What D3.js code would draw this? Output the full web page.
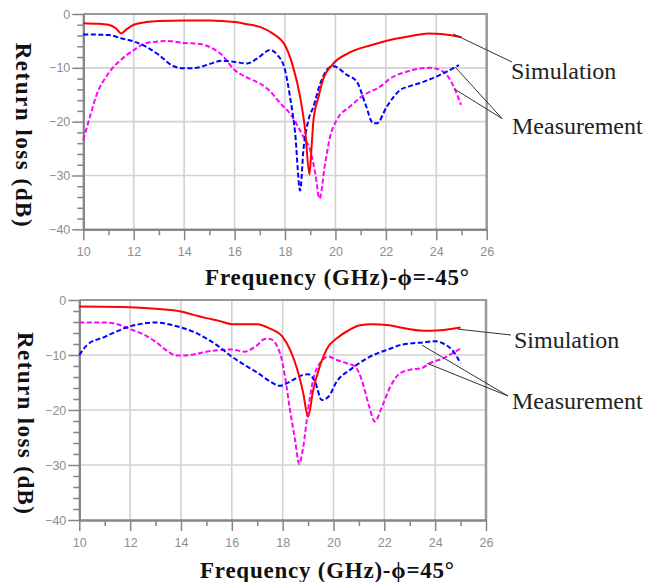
<!DOCTYPE html>
<html>
<head>
<meta charset="utf-8">
<script src="https://cdn.jsdelivr.net/npm/d3@7"></script>
<style>
  body { margin: 0; background: #fff; }
  svg { display: block; }
  .tick text { fill: #8e8e8e; font-family: "Liberation Sans", Arial, sans-serif; font-size: 12.5px; }
  .ttl { font-family: "Liberation Serif", "Times New Roman", serif; font-weight: bold; fill: #111; }
  .ann { font-family: "Liberation Serif", "Times New Roman", serif; font-size: 24px; fill: #222; }
</style>
</head>
<body>
<script>
// axis ticks
var freqMajor = [10, 12, 14, 16, 18, 20, 22, 24, 26];
var freqMinor = [11, 13, 15, 17, 19, 21, 23, 25];
var dbMajor = [0, -10, -20, -30, -40];
var dbMinor = [-2, -4, -6, -8, -12, -14, -16, -18, -22, -24, -26, -28, -32, -34, -36, -38];

// phi = -45 deg  [GHz, dB]
var simM45 = [[10,-1.7],[10.5,-1.8],[11,-2.0],[11.3,-2.7],[11.5,-3.6],[11.7,-2.9],[12,-2.0],[12.5,-1.5],
  [13,-1.3],[14,-1.2],[15,-1.2],[16,-1.5],[16.5,-1.9],[17,-2.4],[17.5,-3.6],[18,-5.8],[18.3,-9.5],
  [18.6,-15.4],[18.8,-21.6],[18.97,-29.8],[19.05,-25],[19.13,-19.7],[19.33,-15.4],[19.5,-12.3],
  [19.9,-9.3],[20.5,-7.3],[21.4,-5.8],[22,-5.0],[23,-4.1],[23.7,-3.6],[24.2,-3.7],[25,-4.3]];
var blueM45 = [[10,-3.8],[11,-3.9],[11.5,-4.5],[12,-5.1],[12.5,-6.1],[13,-7.6],[13.5,-9.5],[14,-10.1],
  [14.5,-10.0],[15,-9.3],[15.5,-8.7],[16,-8.9],[16.5,-9.2],[17,-7.9],[17.4,-6.7],[17.7,-7.6],[18,-10.4],
  [18.2,-15.4],[18.4,-22],[18.6,-32.8],[18.73,-25.3],[18.93,-19.7],[19.13,-17.2],[19.4,-12.9],
  [19.72,-10.1],[19.92,-9.7],[20.45,-11.3],[20.85,-12.6],[21.18,-16.6],[21.5,-20.3],[21.64,-20.3],
  [22.04,-17.2],[22.57,-14.1],[22.96,-13.4],[23.49,-12.6],[24.15,-11.3],[24.9,-9.5]];
var magM45 = [[10,-23.4],[10.3,-18.5],[10.5,-15.4],[11,-11.0],[11.5,-8.5],[12,-6.7],[12.5,-5.4],[13,-5.1],
  [13.3,-5.0],[14,-5.4],[14.5,-5.5],[15,-6.1],[15.5,-7.6],[16,-10.4],[16.5,-11.8],[17,-12.9],[17.4,-14.3],
  [17.8,-16.5],[18.2,-18.5],[18.73,-22.8],[19.0,-25.3],[19.2,-29.6],[19.37,-34.3],[19.59,-27.8],
  [19.79,-22.8],[20.05,-19.7],[20.58,-17.2],[21.11,-15.1],[21.77,-13.5],[22.17,-12.0],[22.83,-10.7],
  [23.75,-10.0],[24.15,-10.4],[24.48,-11.7],[24.75,-14.1],[24.98,-16.9]];

// phi = 45 deg  [GHz, dB]
var simP45 = [[10,-1.2],[12,-1.3],[13,-1.6],[14,-2.1],[14.5,-2.7],[15,-3.3],[15.5,-3.8],[16,-4.4],[17,-4.4],
  [17.5,-5.2],[18,-6.7],[18.3,-9.1],[18.6,-13.0],[18.8,-16.7],[19.0,-21.2],[19.2,-16.4],[19.46,-12.1],
  [19.79,-8.5],[20.12,-7.0],[20.6,-5.5],[21.05,-4.6],[21.5,-4.4],[22.2,-4.6],[22.62,-5.0],[23.54,-5.6],
  [24.2,-5.5],[25,-5.0]];
var blueP45 = [[10,-10.0],[10.3,-8.2],[11,-6.7],[12,-4.8],[13,-4.1],[14,-5.0],[14.5,-5.8],[15,-7.0],
  [15.5,-8.5],[16,-10.3],[16.5,-11.8],[17,-13.2],[17.5,-14.8],[17.9,-15.6],[18.3,-14.8],[18.7,-13.8],
  [19.0,-13.5],[19.27,-14.8],[19.54,-18.2],[19.8,-17.6],[20.13,-14.8],[20.65,-12.7],[21.44,-10.3],
  [22.2,-8.9],[22.62,-8.2],[23.53,-7.7],[24.0,-7.5],[24.35,-8.0],[24.71,-9.3],[25,-11.5]];
var magP45 = [[10,-4.1],[11,-4.1],[11.5,-4.4],[12,-5.3],[12.5,-6.2],[13,-7.6],[13.5,-9.4],[13.8,-10.1],
  [14,-10.1],[14.5,-9.9],[15,-9.4],[15.5,-9.1],[16,-9.0],[16.5,-9.4],[17,-8.2],[17.3,-7.1],[17.5,-7.1],
  [17.9,-9.7],[18.09,-13.9],[18.29,-20],[18.49,-25.5],[18.65,-29.8],[18.81,-26.7],[19.0,-20],[19.2,-14.5],
  [19.46,-11.5],[19.8,-10.3],[20.13,-10.9],[20.52,-11.5],[20.85,-12.1],[21.11,-14.5],[21.37,-18.8],
  [21.63,-22.1],[21.9,-19.5],[22.22,-15.9],[22.62,-13.3],[23.0,-12.7],[23.47,-12.4],[23.79,-11.5],
  [24.32,-10.6],[25.0,-8.8]];

var yTitle = "Return loss (dB)";
var xTitles = ["Frequency (GHz)-\u03d5=-45\u00b0", "Frequency (GHz)-\u03d5=45\u00b0"];
var annLabels = ["Simulation", "Measurement"];

var w = 662, h = 582;
var svg = d3.select("body").append("svg").attr("width", w).attr("height", h);

var panels = [
  { left: 83.3, right: 486.7, top: 14, bottom: 229.3, sim: simM45, blue: blueM45, mag: magM45,
    title: xTitles[0], tx: 205, tBase: 285, tLen: 264, yx: 24, yLen: 184,
    simAt: [24.67, -3.7], blueAt: [24.75, -9.85], magAt: [24.71, -13.9],
    simEnd: [512, 62], measEnd: [502, 118.5], simText: [511, 79], measText: [512, 134] },
  { left: 79.3, right: 486, top: 300, bottom: 520, sim: simP45, blue: blueP45, mag: magP45,
    title: xTitles[1], tx: 200, tBase: 578, tLen: 254, yx: 26, yLen: 182,
    simAt: [24.9, -5.3], blueAt: [23.48, -8.2], magAt: [23.68, -11.5],
    simEnd: [511, 335], measEnd: [508, 396], simText: [514, 348], measText: [512, 409] }
];

panels.forEach(function(p) {
  var x = d3.scaleLinear().domain([10, 26]).range([p.left, p.right]);
  var y = d3.scaleLinear().domain([-40, 0]).range([p.bottom, p.top]);
  var g = svg.append("g");

  // grid
  g.selectAll(".vg").data(freqMajor.filter(function(d) { return d > 10 && d < 26; }))
    .enter().append("line")
    .attr("x1", function(d) { return x(d); }).attr("x2", function(d) { return x(d); })
    .attr("y1", y(0)).attr("y2", y(-40))
    .attr("stroke", "#d2d2d2").attr("stroke-width", 1.6);
  g.selectAll(".hg").data([-10, -20, -30])
    .enter().append("line")
    .attr("x1", x(10)).attr("x2", x(26))
    .attr("y1", function(d) { return y(d); }).attr("y2", function(d) { return y(d); })
    .attr("stroke", "#d2d2d2").attr("stroke-width", 1.6);

  // top and right frame
  g.append("line").attr("x1", x(10)).attr("x2", x(26)).attr("y1", y(0)).attr("y2", y(0))
    .attr("stroke", "#999").attr("stroke-width", 2);
  g.append("line").attr("x1", x(26)).attr("x2", x(26)).attr("y1", y(0) - 1).attr("y2", y(-40))
    .attr("stroke", "#999").attr("stroke-width", 2.5);

  // axes
  var xMin = g.append("g").attr("transform", "translate(0," + y(-40) + ")")
    .call(d3.axisBottom(x).tickValues(freqMinor).tickSize(6).tickSizeOuter(0).tickFormat(""));
  var xMaj = g.append("g").attr("transform", "translate(0," + y(-40) + ")")
    .call(d3.axisBottom(x).tickValues(freqMajor).tickSize(11).tickSizeOuter(0).tickPadding(7));
  var yMin = g.append("g").attr("transform", "translate(" + x(10) + ",0)")
    .call(d3.axisLeft(y).tickValues(dbMinor).tickSize(6).tickSizeOuter(0).tickFormat(""));
  var yMaj = g.append("g").attr("transform", "translate(" + x(10) + ",0)")
    .call(d3.axisLeft(y).tickValues(dbMajor).tickSize(11).tickSizeOuter(0).tickPadding(2));
  [xMin, xMaj, yMin, yMaj].forEach(function(a) {
    a.select(".domain").attr("stroke", "#858585").attr("stroke-width", 2);
    a.selectAll(".tick line").attr("stroke", "#858585").attr("stroke-width", 1.5);
  });

  // curves
  var line = d3.line()
    .x(function(d) { return x(d[0]); })
    .y(function(d) { return y(d[1]); })
    .curve(d3.curveMonotoneX);
  g.append("path").datum(p.mag).attr("d", line).attr("fill", "none")
    .attr("stroke", "#ff00ff").attr("stroke-width", 2).attr("stroke-dasharray", "5,2.5");
  g.append("path").datum(p.blue).attr("d", line).attr("fill", "none")
    .attr("stroke", "#0000ff").attr("stroke-width", 2).attr("stroke-dasharray", "5,2.5");
  g.append("path").datum(p.sim).attr("d", line).attr("fill", "none")
    .attr("stroke", "#ff0000").attr("stroke-width", 2);

  // leader lines
  var leaders = [[p.simAt, p.simEnd], [p.blueAt, p.measEnd], [p.magAt, p.measEnd]];
  g.selectAll(".ld").data(leaders).enter().append("line")
    .attr("x1", function(d) { return x(d[0][0]); }).attr("y1", function(d) { return y(d[0][1]); })
    .attr("x2", function(d) { return d[1][0]; }).attr("y2", function(d) { return d[1][1]; })
    .attr("stroke", "#333").attr("stroke-width", 1);

  g.append("text").attr("class", "ann").attr("x", p.simText[0]).attr("y", p.simText[1]).text(annLabels[0]);
  g.append("text").attr("class", "ann").attr("x", p.measText[0]).attr("y", p.measText[1]).text(annLabels[1]);

  // titles
  g.append("text").attr("class", "ttl").attr("x", p.tx).attr("y", p.tBase)
    .attr("font-size", 23).attr("textLength", p.tLen).attr("lengthAdjust", "spacing")
    .text(p.title);
  var cy = (p.top + p.bottom) / 2 + 13;
  g.append("text").attr("class", "ttl")
    .attr("transform", "translate(" + p.yx + "," + cy + ") rotate(90)")
    .attr("text-anchor", "middle").attr("dy", "0.35em")
    .attr("font-size", 23).attr("textLength", p.yLen).attr("lengthAdjust", "spacing")
    .text(yTitle);
});
</script>
</body>
</html>
